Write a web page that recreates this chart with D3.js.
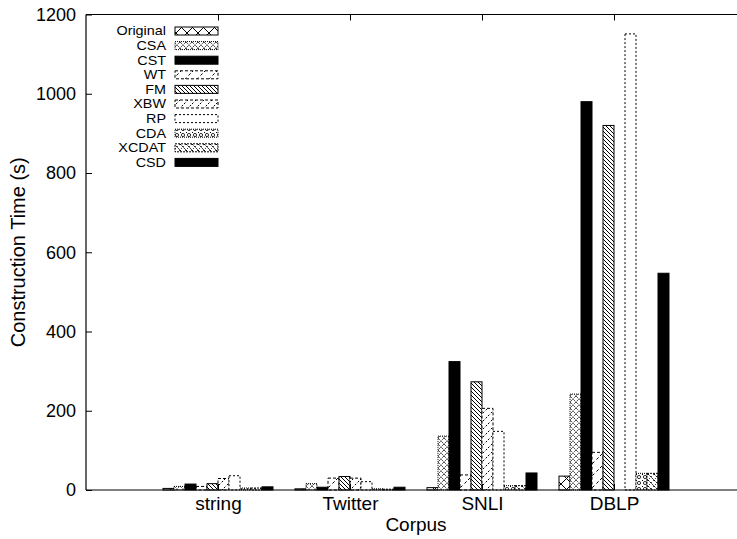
<!DOCTYPE html>
<html>
<head>
<meta charset="utf-8">
<script src="https://cdn.jsdelivr.net/npm/d3@7"></script>
<style>
  body { margin: 0; background: #fff; }
  text { font-family: "Liberation Sans", Arial, Helvetica, sans-serif; }
</style>
</head>
<body>
<svg id="chart" width="737" height="539"></svg>
<script>
// corpora on the x axis, one cluster each
const corpora = ["string", "Twitter", "SNLI", "DBLP"];
const methods = ["Original", "CSA", "CST", "WT", "FM", "XBW", "RP", "CDA", "XCDAT", "CSD"];

// construction time (s) per method, in corpus order
const original = [4, 3, 6, 35];
const csa      = [9, 16, 136, 242];
const cst      = [15, 7, 324, 980];
const wt       = [9, 30, 38, 95];
const fm       = [16, 34, 273, 920];
const xbw      = [29, 30, 206, 0];
const rp       = [36, 21, 148, 1151];
const cda      = [5, 3, 11, 42];
const xcdat    = [5, 2, 11, 42];
const csd      = [8, 7, 43, 547];

const yTicks = [0, 200, 400, 600, 800, 1000, 1200];

const series = [original, csa, cst, wt, fm, xbw, rp, cda, xcdat, csd];

const width = 737, height = 539;
const svg = d3.select("#chart");

// plot frame (right edge runs off the page like in the original)
const x = d3.scaleLinear().domain([-1, 4]).range([86, 746]);
const y = d3.scaleLinear().domain([0, 1200]).range([490, 14.5]);

const unit = x(1) - x(0);
const barW = unit / 12;   // 10 bars + gap of 2

const defs = svg.append("defs");

function pat(id, size, draw) {
  const p = defs.append("pattern")
    .attr("id", id)
    .attr("patternUnits", "userSpaceOnUse")
    .attr("width", size).attr("height", size);
  p.append("rect").attr("width", size).attr("height", size).attr("fill", "#fff");
  draw(p, size);
}
function line(p, x1, y1, x2, y2, dash, w) {
  p.append("line")
    .attr("x1", x1).attr("y1", y1).attr("x2", x2).attr("y2", y2)
    .attr("stroke", "#000").attr("stroke-width", w || 1)
    .attr("stroke-dasharray", dash || null);
}

pat("p-orig", 11, (p, s) => { line(p, 0, 0, s, s); line(p, s, 0, 0, s); });
pat("p-csa", 6, (p, s) => { line(p, 0, 0, s, s, "1,1"); line(p, s, 0, 0, s, "1,1"); });
pat("p-wt", 12, (p, s) => { line(p, 0, s, s, 0, "3,3"); });
pat("p-fm", 4, (p, s) => { line(p, 0, 0, s, s); line(p, -1, s - 1, 1, s + 1); line(p, s - 1, -1, s + 1, 1); });
pat("p-xbw", 8, (p, s) => { line(p, 0, s, s, 0, "2,2"); });
pat("p-cda", 6, (p, s) => {
  p.append("circle").attr("cx", s / 2).attr("cy", s / 2).attr("r", 1.6)
    .attr("fill", "none").attr("stroke", "#000").attr("stroke-width", 0.8);
  p.append("rect").attr("x", 0).attr("y", 0).attr("width", 1).attr("height", 1).attr("fill", "#000");
});
pat("p-xcdat", 6, (p, s) => { line(p, 0, 0, s, s, "2,1"); line(p, s, 0, 0, s, "1,2"); });

const styles = [
  { fill: "url(#p-orig)", dash: null },
  { fill: "url(#p-csa)", dash: "1,1" },
  { fill: "#000", dash: null },
  { fill: "url(#p-wt)", dash: "3,2" },
  { fill: "url(#p-fm)", dash: null },
  { fill: "url(#p-xbw)", dash: "3,2" },
  { fill: "#fff", dash: "2,2" },
  { fill: "url(#p-cda)", dash: "1,1" },
  { fill: "url(#p-xcdat)", dash: "2,1" },
  { fill: "#000", dash: null }
];

// bars
const rows = [];
series.forEach((vals, m) => {
  vals.forEach((v, c) => rows.push({ m, c, v }));
});

svg.append("g").selectAll("rect")
  .data(rows.filter(d => d.v > 0))
  .join("rect")
  .attr("x", d => x(d.c) + (d.m - 5) * barW)
  .attr("y", d => y(d.v))
  .attr("width", barW)
  .attr("height", d => y(0) - y(d.v))
  .attr("fill", d => styles[d.m].fill)
  .attr("stroke", "#000")
  .attr("stroke-width", 1)
  .attr("stroke-dasharray", d => styles[d.m].dash);

// frame
const frame = svg.append("g").attr("stroke", "#000").attr("stroke-width", 1.2);
frame.append("line").attr("x1", x(-1)).attr("x2", x(-1)).attr("y1", y(0)).attr("y2", y(1200));
frame.append("line").attr("x1", x(-1)).attr("x2", width).attr("y1", y(1200)).attr("y2", y(1200));
frame.append("line").attr("x1", x(-1)).attr("x2", width).attr("y1", y(0)).attr("y2", y(0));

const font = "Liberation Sans, Arial, sans-serif";

// y axis: ticks inside, labels on the left
const yAxis = d3.axisLeft(y).tickValues(yTicks).tickFormat(d3.format("d")).tickSize(-6).tickPadding(10);
const gy = svg.append("g").attr("transform", `translate(${x(-1)},0)`).call(yAxis);
gy.select(".domain").remove();
gy.selectAll("text").attr("font-size", 18).attr("font-family", font).attr("fill", "#000");
gy.selectAll("line").attr("stroke", "#000");

// x axis labels
const xAxis = d3.axisBottom(x).tickValues(d3.range(corpora.length)).tickFormat(i => corpora[i])
  .tickSize(-6).tickPadding(7);
const gx = svg.append("g").attr("transform", `translate(0,${y(0)})`).call(xAxis);
gx.select(".domain").remove();
gx.selectAll("text").attr("font-size", 19).attr("font-family", font).attr("fill", "#000");
gx.selectAll("line").attr("stroke", "#000");

// mirrored x ticks at the top
const gt = svg.append("g").attr("transform", `translate(0,${y(1200)})`)
  .call(d3.axisTop(x).tickValues(d3.range(corpora.length)).tickSize(-6).tickFormat(""));
gt.select(".domain").remove();
gt.selectAll("line").attr("stroke", "#000");

// axis titles
svg.append("text")
  .attr("x", 416).attr("y", 531)
  .attr("text-anchor", "middle")
  .attr("font-size", 19)
  .text("Corpus");

svg.append("text")
  .attr("transform", `translate(25,${(y(0) + y(1200)) / 2}) rotate(-90)`)
  .attr("text-anchor", "middle")
  .attr("font-size", 20)
  .text("Construction Time (s)");

// legend (text squeezed vertically so rows don't collide)
const key = svg.append("g");
const keyTop = 31, keyStep = 14.6;
methods.forEach((name, i) => {
  const yy = keyTop + i * keyStep;
  key.append("text")
    .attr("transform", `translate(166,${yy}) scale(1.15,1)`)
    .attr("dy", "0.35em")
    .attr("text-anchor", "end")
    .attr("font-size", 12.5)
    .text(name);
  key.append("rect")
    .attr("x", 175).attr("y", yy - 4)
    .attr("width", 43).attr("height", 8)
    .attr("fill", styles[i].fill)
    .attr("stroke", "#000")
    .attr("stroke-dasharray", styles[i].dash);
});
</script>
</body>
</html>
